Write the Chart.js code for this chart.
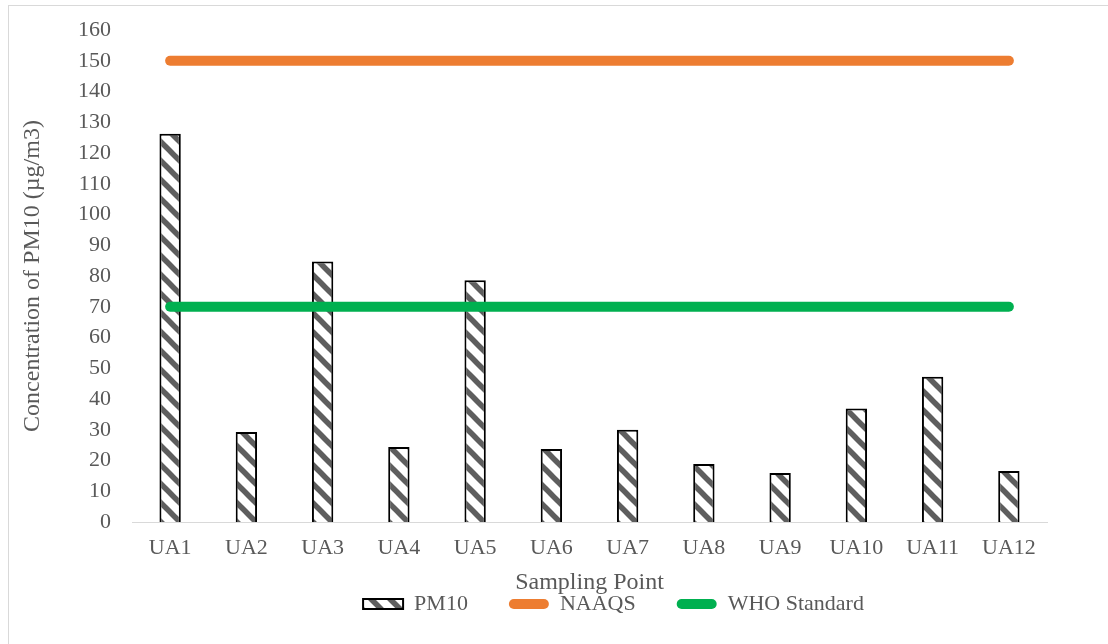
<!DOCTYPE html>
<html>
<head>
<meta charset="utf-8">
<script src="https://cdn.jsdelivr.net/npm/chart.js@4.4.1/dist/chart.umd.min.js"></script>
<style>
  html, body { margin: 0; padding: 0; background: #ffffff; }
  #wrap { width: 1108px; height: 644px; }
</style>
</head>
<body>
<div id="wrap"><canvas id="c" width="1108" height="644"></canvas></div>
<script>
// ---- Data ----
const categories = ['UA1','UA2','UA3','UA4','UA5','UA6','UA7','UA8','UA9','UA10','UA11','UA12'];
const pm10Values = [126.3, 29.3, 84.7, 24.4, 78.6, 23.7, 30.0, 18.9, 15.9, 36.9, 47.2, 16.6];
const naaqsValues = [150,150,150,150,150,150,150,150,150,150,150,150];
const whoValues = [70,70,70,70,70,70,70,70,70,70,70,70];
const seriesLabels = ['PM10', 'NAAQS', 'WHO Standard'];
const yAxisTitle = 'Concentration of PM10 (µg/m3)';
const xAxisTitle = 'Sampling Point';
const yMin = 0, yMax = 160, yStep = 10;

// ---- Styles ----
const FONT = "'Liberation Serif', 'Times New Roman', serif";
const TEXT = '#595959';
const ORANGE = '#ED7D31';
const GREEN = '#00B050';

function makeHatch() {
  const s = 19;
  const c = document.createElement('canvas');
  c.width = s; c.height = s;
  const g = c.getContext('2d');
  g.fillStyle = '#ffffff';
  g.fillRect(0, 0, s, s);
  g.strokeStyle = '#5e5e5e';
  g.lineWidth = 5.5;
  g.lineCap = 'butt';
  for (const off of [-s, 0, s]) {
    g.beginPath();
    g.moveTo(off - 2, -2);
    g.lineTo(off + s + 2, s + 2);
    g.stroke();
  }
  return g.createPattern(c, 'repeat');
}
const hatch = makeHatch();

const bgPlugin = {
  id: 'bg',
  beforeDraw(chart) {
    const ctx = chart.ctx;
    ctx.save();
    ctx.fillStyle = '#ffffff';
    ctx.fillRect(0, 0, chart.width, chart.height);
    ctx.strokeStyle = '#d9d9d9';
    ctx.lineWidth = 1;
    ctx.strokeRect(8.5, 5.5, chart.width + 20, chart.height + 20);
    ctx.restore();
  }
};

// Nudge the legend row to sit just under the axis title, as in the reference.
const legendNudge = {
  id: 'legendNudge',
  afterLayout(chart) {
    const lg = chart.legend;
    if (!lg) return;
    const dy = -10, dx = 24;
    lg.top += dy; lg.bottom += dy;
    lg.left += dx; lg.right += dx;
  }
};

new Chart(document.getElementById('c'), {
  data: {
    labels: categories,
    datasets: [
      {
        type: 'bar',
        label: seriesLabels[0],
        data: pm10Values,
        backgroundColor: hatch,
        borderColor: '#000000',
        borderWidth: 2,
        categoryPercentage: 1.0,
        barPercentage: 0.28,
        order: 3
      },
      {
        type: 'line',
        label: seriesLabels[1],
        data: naaqsValues,
        borderColor: ORANGE,
        backgroundColor: ORANGE,
        borderWidth: 10,
        borderCapStyle: 'round',
        pointRadius: 0,
        pointHoverRadius: 0,
        fill: false,
        order: 1
      },
      {
        type: 'line',
        label: seriesLabels[2],
        data: whoValues,
        borderColor: GREEN,
        backgroundColor: GREEN,
        borderWidth: 10,
        borderCapStyle: 'round',
        pointRadius: 0,
        pointHoverRadius: 0,
        fill: false,
        order: 2
      }
    ]
  },
  options: {
    responsive: false,
    animation: false,
    devicePixelRatio: 1,
    layout: { padding: { left: 8, top: 30, right: 61, bottom: 9 } },
    plugins: {
      tooltip: { enabled: false },
      legend: {
        position: 'bottom',
        fullSize: false,
        labels: {
          boxWidth: 40,
          boxHeight: 10,
          padding: 41,
          color: TEXT,
          font: { family: FONT, size: 22 },
          generateLabels(chart) {
            return chart.data.datasets.map((ds, i) => ({
              text: ds.label,
              fillStyle: i === 0 ? hatch : ds.borderColor,
              strokeStyle: i === 0 ? '#000000' : ds.borderColor,
              lineWidth: i === 0 ? 2 : 0,
              borderRadius: i === 0 ? 0 : 5,
              fontColor: TEXT,
              hidden: false,
              datasetIndex: i
            }));
          }
        }
      }
    },
    scales: {
      x: {
        type: 'category',
        offset: true,
        grid: { display: false, drawTicks: false },
        border: { display: true, color: '#d9d9d9', width: 1 },
        ticks: { color: TEXT, font: { family: FONT, size: 22 }, padding: 13, maxRotation: 0, autoSkip: false },
        title: {
          display: true,
          text: xAxisTitle,
          color: TEXT,
          font: { family: FONT, size: 24 },
          padding: { top: 0, bottom: -35 }
        },
        afterFit(scale) { scale.height = 40; }
      },
      y: {
        min: yMin,
        max: yMax,
        grid: { display: false, drawTicks: false },
        border: { display: false },
        ticks: { stepSize: yStep, color: TEXT, font: { family: FONT, size: 22 }, padding: 21 },
        title: {
          display: true,
          text: yAxisTitle,
          color: TEXT,
          font: { family: FONT, size: 24 },
          padding: { top: 10, bottom: 0 }
        },
        afterFit(scale) {
          scale.width = 124;
          scale.paddingTop = 0;
          scale.paddingBottom = 0;
        }
      }
    }
  },
  plugins: [bgPlugin, legendNudge]
});
</script>
</body>
</html>
